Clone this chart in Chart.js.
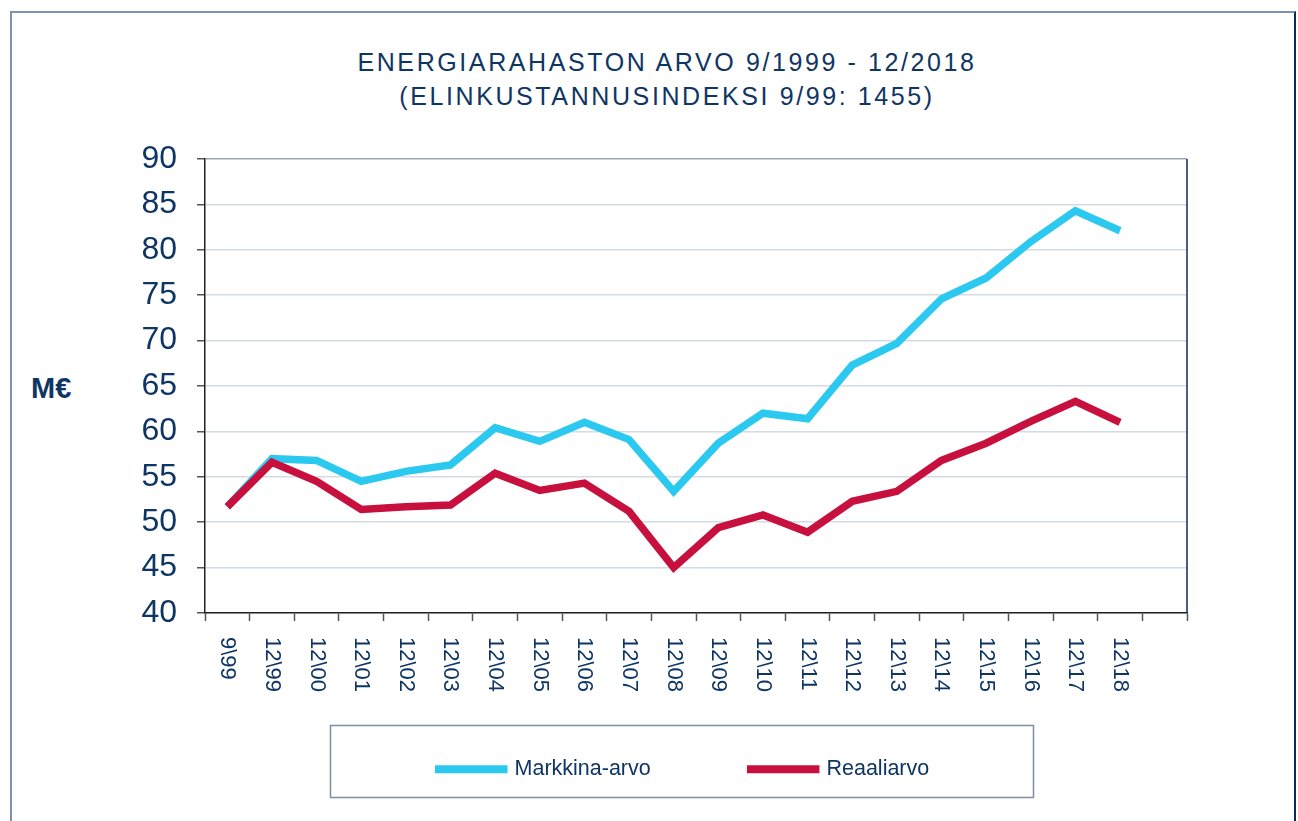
<!DOCTYPE html>
<html>
<head>
<meta charset="utf-8">
<script src="https://cdn.jsdelivr.net/npm/chart.js@4.4.1/dist/chart.umd.min.js"></script>
<style>
  body { margin: 0; background: #fff; }
  #wrap { position: relative; width: 1298px; height: 821px; overflow: hidden; font-family: "Liberation Sans", Arial, sans-serif; color: #0e3563; }
  #frame { position: absolute; left: 10px; top: 11px; width: 1282px; height: 840px; border-top: 2px solid #7d93ab; border-left: 2px solid #7d93ab; border-right: 2px solid #0b2a55; }
  #title { position: absolute; left: 0; top: 45px; width: 1334px; text-align: center; font-size: 25px; line-height: 34px; letter-spacing: 2.6px; }
  #unit { position: absolute; left: 31px; top: 374px; font-size: 29px; font-weight: bold; line-height: 1; }
  canvas { position: absolute; left: 0; top: 0; }
</style>
</head>
<body>
<div id="wrap">
  <div id="frame"></div>
  <div id="title">ENERGIARAHASTON ARVO 9/1999 - 12/2018<br>(ELINKUSTANNUSINDEKSI 9/99: 1455)</div>
  <div id="unit">M€</div>
  <canvas id="chart" width="1298" height="821"></canvas>
</div>
<script>
const categories = ['9\\99', '12\\99', '12\\00', '12\\01', '12\\02', '12\\03', '12\\04', '12\\05', '12\\06', '12\\07',
  '12\\08', '12\\09', '12\\10', '12\\11', '12\\12', '12\\13', '12\\14', '12\\15', '12\\16', '12\\17', '12\\18'];
const markkinaArvo = [51.7, 57.0, 56.8, 54.5, 55.6, 56.3, 60.4, 58.9, 61.0, 59.1,
  53.4, 58.7, 62.0, 61.4, 67.3, 69.7, 74.6, 76.9, 80.9, 84.3, 82.1];
const reaaliArvo = [51.7, 56.6, 54.5, 51.4, 51.7, 51.9, 55.4, 53.5, 54.3, 51.2,
  45.0, 49.4, 50.8, 48.9, 52.3, 53.4, 56.8, 58.7, 61.1, 63.3, 61.0];
const yMin = 40, yMax = 90, yStep = 5;

const navy = '#0e3563';
const font = '"Liberation Sans", Arial, sans-serif';

const extras = {
  id: 'extras',
  afterLayout(chart) {
    // legend box sits a bit right of the canvas centre
    chart.legend.left = 181;
  },
  afterDraw(chart) {
    const ctx = chart.ctx;
    const x = chart.scales.x;
    const area = chart.chartArea;
    ctx.save();
    // rotated category labels, reading top to bottom
    ctx.fillStyle = navy;
    ctx.font = '22px ' + font;
    ctx.textAlign = 'left';
    ctx.textBaseline = 'middle';
    categories.forEach((c, i) => {
      ctx.save();
      ctx.translate(x.getPixelForValue(i), area.bottom + 24);
      ctx.rotate(Math.PI / 2);
      ctx.fillText(c, 0, 0);
      ctx.restore();
    });
    // right edge of plot
    ctx.strokeStyle = '#0b2a55';
    ctx.lineWidth = 1.5;
    ctx.beginPath();
    ctx.moveTo(area.right, area.top);
    ctx.lineTo(area.right, area.bottom);
    ctx.stroke();
    // legend frame
    ctx.strokeStyle = '#7a8fa8';
    ctx.lineWidth = 1.5;
    ctx.strokeRect(330.5, 725.5, 703, 72);
    ctx.restore();
  }
};

new Chart(document.getElementById('chart'), {
  type: 'line',
  data: {
    labels: [...categories, ''],
    datasets: [{
      label: 'Markkina-arvo',
      data: markkinaArvo,
      borderColor: '#2bc8ef',
      backgroundColor: '#2bc8ef',
      borderWidth: 7.5,
      pointRadius: 0,
      order: 1
    }, {
      label: 'Reaaliarvo',
      data: reaaliArvo,
      borderColor: '#c8103e',
      backgroundColor: '#c8103e',
      borderWidth: 7.5,
      pointRadius: 0,
      order: 0
    }]
  },
  options: {
    responsive: false,
    animation: false,
    layout: { padding: { left: 100, right: 111, top: 159, bottom: 31 } },
    plugins: {
      title: { display: false },
      tooltip: { enabled: false },
      legend: {
        position: 'bottom',
        labels: {
          sort: (a, b) => a.datasetIndex - b.datasetIndex,
          boxWidth: 65,
          boxHeight: 0.5,
          padding: 100,
          color: navy,
          font: { family: font, size: 21.5 }
        }
      }
    },
    scales: {
      x: {
        offset: true,
        afterFit: (s) => { s.height = 45.5; },
        grid: { offset: true, drawOnChartArea: false, drawTicks: true, tickLength: 8, tickColor: '#555', tickWidth: 1.5 },
        border: { color: '#222', width: 1.5 },
        ticks: { display: false }
      },
      y: {
        min: yMin,
        max: yMax,
        afterFit: (s) => { s.width = 105; },
        ticks: {
          stepSize: yStep,
          padding: 20,
          color: navy,
          font: { family: font, size: 32 }
        },
        grid: {
          color: (c) => c.tick && c.tick.value === yMax ? '#9aa6b6' : '#d3dbe5',
          lineWidth: 1.5,
          tickLength: 8,
          tickColor: '#555'
        },
        border: { color: '#222', width: 1.5 }
      }
    }
  },
  plugins: [extras]
});
</script>
</body>
</html>
